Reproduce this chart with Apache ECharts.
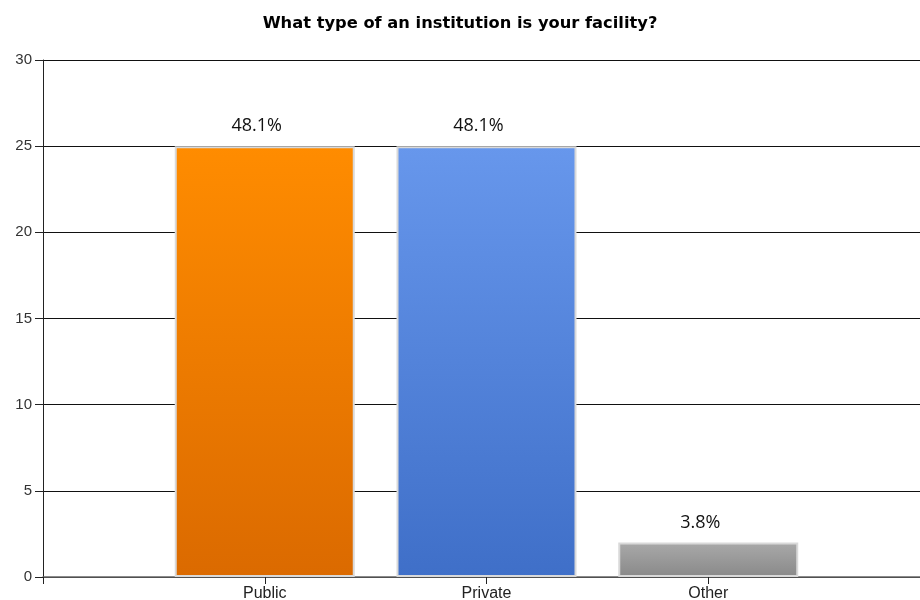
<!DOCTYPE html>
<html><head><meta charset="utf-8">
<script src="https://cdn.jsdelivr.net/npm/echarts@6/dist/echarts.min.js"></script>
<style>html,body{margin:0;padding:0;background:#fff}#c{width:920px;height:600px}</style>
</head><body><div id="c"></div>
<script>
const categories = ['', 'Public', 'Private', 'Other', ''];
const counts = [null, 25, 25, 2, null];
const percentLabels = ['', '48.1%', '48.1%', '3.8%', ''];
const yTicks = [0, 5, 10, 15, 20, 25, 30];

const grads = [
  null,
  ['#ff8c00', '#db6a00'],
  ['#6797ec', '#3f6fc8'],
  ['#a9a9a9', '#898989'],
  null
];

const chart = echarts.init(document.getElementById('c'));
chart.setOption({
  animation: false,
  title: {
    text: 'What type of an institution is your facility?',
    left: 'center', top: 11,
    textStyle: { fontFamily: 'DejaVu Sans', fontWeight: 'bold', fontSize: 16.3, color: '#000' }
  },
  grid: { left: 43, width: 887, top: 60, bottom: 23, containLabel: false, outerBoundsMode: 'none' },
  xAxis: {
    type: 'category', data: categories, boundaryGap: false,
    axisLine: { lineStyle: { color: '#666', width: 1.5 } },
    axisTick: { show: true, length: 7, lineStyle: { color: '#222' } },
    axisLabel: { fontFamily: 'Liberation Sans, Arial', fontSize: 16, color: '#222', margin: 9 },
    splitLine: { show: false }
  },
  yAxis: {
    type: 'value', min: yTicks[0], max: yTicks[yTicks.length - 1], interval: 5,
    axisLine: { show: true, lineStyle: { color: '#222', width: 1 } },
    axisTick: { show: true, length: 8, lineStyle: { color: '#222' } },
    axisLabel: { fontFamily: 'Liberation Sans, Arial', fontSize: 15, color: '#333', margin: 11 },
    splitLine: { show: true, lineStyle: { color: '#111', width: 1 } }
  },
  series: [{
    type: 'bar',
    barWidth: 180,
    z: 3,
    data: counts.map((v, i) => v == null ? null : ({
      value: v,
      itemStyle: {
        color: new echarts.graphic.LinearGradient(0, 0, 0, 1, [
          { offset: 0, color: grads[i][0] }, { offset: 1, color: grads[i][1] }
        ]),
        borderColor: '#d9d9d9', borderWidth: 2
      }
    })),
    label: {
      show: true, position: 'top', distance: 11, offset: [-8, 0],
      fontFamily: 'Open Sans, Noto Sans, sans-serif', fontSize: 18, color: '#111',
      formatter: p => percentLabels[p.dataIndex]
    }
  }]
});
</script></body></html>
